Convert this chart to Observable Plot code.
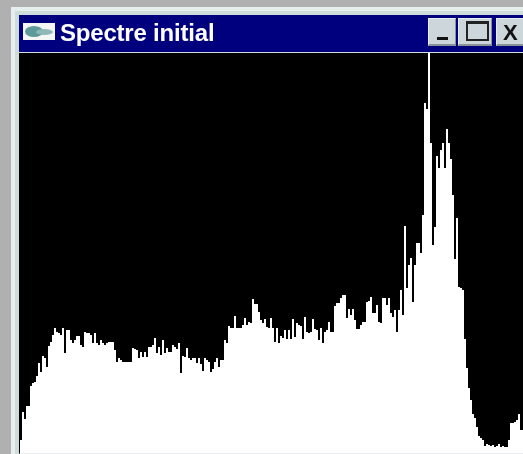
<!DOCTYPE html>
<html><head><meta charset="utf-8">
<script src="https://cdn.jsdelivr.net/npm/d3@7"></script>
<script src="https://cdn.jsdelivr.net/npm/@observablehq/plot@0.6"></script>
<style>
html,body{margin:0;padding:0;background:#b0b0b0;overflow:hidden}
#win{position:absolute;left:0;top:0;width:523px;height:454px;overflow:hidden;background:#b0b0b0;filter:blur(.55px)}
#win div{position:absolute;box-sizing:border-box}
#frame{left:11px;top:7px;width:520px;height:460px;background:#e6eeee}
#inner{left:15px;top:11px;width:520px;height:460px;background:#cfdcdc}
#bar{left:19px;top:15px;width:510px;height:37px;background:#00007f}
#title{left:60px;top:17px;font:bold 24px "Liberation Sans",Arial,sans-serif;letter-spacing:-.2px;color:#fff;white-space:nowrap;line-height:32px}
#icon{left:23px;top:23px;width:32px;height:17px;background:#f4f6f6}
#icon1{left:25px;top:26px;width:18px;height:11px;border-radius:50%;background:#5f9a9a}
#icon2{left:36px;top:29px;width:17px;height:6px;border-radius:50%;background:#8fb8b8}
.btn{top:18px;height:28px;background:#cdd6da;border-top:1px solid #e8eeee;border-left:1px solid #e8eeee;border-right:1px solid #8a9296;border-bottom:2px solid #8a9296}
#bMin{left:428px;width:28px}
#bMax{left:458px;width:34px}
#bClose{left:496px;width:32px}
#minBar{left:437px;top:37px;width:11px;height:3px;background:#111}
#maxBox{left:466px;top:21px;width:23px;height:20px;border:2px solid #222;border-top-width:3px}
#x{left:503px;top:17px;font:bold 22px "Liberation Sans",Arial,sans-serif;color:#111;line-height:32px}
#plot{left:19px;top:53px;width:504px;height:401px}
#plot svg{display:block}
</style></head>
<body>
<div id="win">
<div id="frame"></div><div id="inner"></div><div id="bar"></div>
<div id="icon"></div><div id="icon1"></div><div id="icon2"></div>
<div id="title">Spectre initial</div>
<div class="btn" id="bMin"></div><div class="btn" id="bMax"></div><div class="btn" id="bClose"></div>
<div id="minBar"></div><div id="maxBox"></div><div id="x">X</div>
<div id="plot"></div>
</div>
<script>
const spectrum = [
14,42,35,48,48,68,71,72,78,91,
82,98,96,87,108,112,119,126,122,121,
119,126,101,124,124,114,111,114,118,118,
109,107,122,121,121,119,111,121,111,109,
114,111,109,111,112,112,112,104,92,96,
94,92,92,92,92,92,106,105,104,96,
102,97,102,97,107,107,109,116,101,107,
99,114,101,106,102,102,109,107,105,111,
81,98,97,106,96,94,96,96,91,96,
90,83,96,94,92,82,85,92,96,87,
94,94,114,111,128,126,126,138,126,126,
126,129,136,129,132,131,155,150,150,142,
134,131,135,127,126,136,126,112,126,111,
118,116,124,115,124,115,135,117,131,129,
128,115,137,122,121,122,135,125,124,114,
126,111,122,124,132,122,122,148,151,151,
156,159,159,136,145,139,145,134,125,125,
129,132,132,152,153,157,141,141,149,132,
131,156,156,149,156,141,137,144,122,144,
164,139,228,166,189,196,152,189,211,211,
201,239,351,345,401,311,209,227,298,286,
304,311,286,325,311,295,259,195,236,167,
166,164,115,86,66,54,40,36,27,18,
16,14,8,10,9,8,9,7,8,10,
7,8,7,7,14,31,31,32,34,40,
24,24,24
];
const channels = spectrum.map((v, i) => ({channel: i, count: v}));
const chart = Plot.plot({
  width: 504, height: 401,
  marginTop: 0, marginRight: 0, marginBottom: 0, marginLeft: 0,
  style: {background: "#000"},
  x: {domain: [-0.5, 251.5], axis: null},
  y: {domain: [0, 401], axis: null},
  marks: [
    Plot.areaY(channels, {x: "channel", y: "count", curve: "step-after", fill: "#fff"}),
    Plot.ruleY([0.5], {stroke: "#d4dcdc", strokeWidth: 1})
  ]
});
document.getElementById("plot").appendChild(chart);
</script>
</body></html>
